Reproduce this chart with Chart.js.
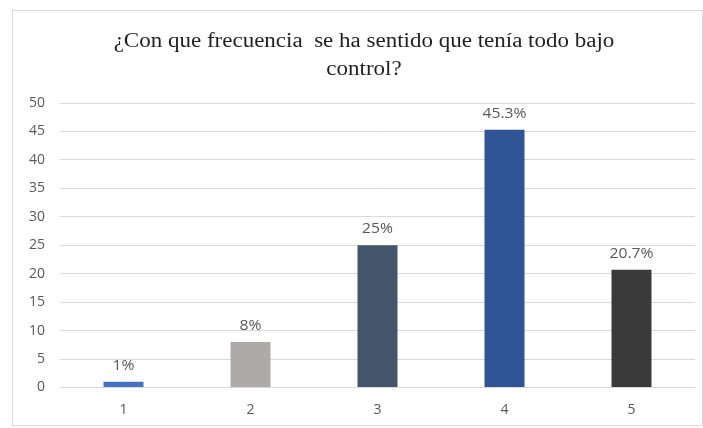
<!DOCTYPE html>
<html lang="es">
<head>
  <meta charset="UTF-8" />
  <title>Frecuencia de control</title>
  <script src="https://cdn.jsdelivr.net/npm/chart.js"></script>
  <style>
    html, body {
      margin: 0;
      padding: 0;
      background: #fff;
    }
    #wrap {
      width: 703px;
      height: 428px;
    }
  </style>
</head>
<body>
  <div id="wrap"><canvas id="freqChart" width="703" height="428"></canvas></div>

  <script>
    const categories = ['1', '2', '3', '4', '5'];
    const values = [1, 8, 25, 45.3, 20.7];
    const valueLabels = ['1%', '8%', '25%', '45.3%', '20.7%'];
    const barColors = ['#4472C4', '#AEAAAA', '#44546A', '#2F5597', '#3A3A3A'];
    const titleLines = ['¿Con que frecuencia  se ha sentido que tenía todo bajo', 'control?'];

    // white background, thin frame and the two-line title (slightly widened serif)
    const frame = {
      id: 'frame',
      beforeDraw(chart) {
        const c = chart.ctx;
        c.save();
        c.fillStyle = '#fff';
        c.fillRect(0, 0, chart.width, chart.height);
        c.strokeStyle = '#d9d9d9';
        c.lineWidth = 1;
        c.strokeRect(12.5, 10.5, 690, 415);

        c.font = '20px "Liberation Serif", serif';
        c.fillStyle = '#1f1f1f';
        c.textAlign = 'center';
        c.textBaseline = 'middle';
        c.translate(364, 0);
        c.scale(1.15, 1);
        titleLines.forEach((line, i) => c.fillText(line, 0, 42 + i * 28));
        c.restore();
      }
    };

    // percentage text above each bar
    const barValues = {
      id: 'barValues',
      afterDatasetsDraw(chart) {
        const c = chart.ctx;
        const meta = chart.getDatasetMeta(0);
        c.font = '14px "Open Sans", sans-serif';
        c.fillStyle = '#595959';
        c.textAlign = 'center';
        c.textBaseline = 'bottom';
        meta.data.forEach((bar, i) => {
          c.save();
          c.translate(bar.x, bar.y - 9);
          c.scale(1.12, 1);
          c.fillText(valueLabels[i], 0, 0);
          c.restore();
        });
      }
    };

    const ctx = document.getElementById('freqChart').getContext('2d');
    const freqChart = new Chart(ctx, {
      type: 'bar',
      data: {
        labels: categories,
        datasets: [{
          data: values,
          backgroundColor: barColors,
          borderWidth: 0,
          barPercentage: 0.315,
          categoryPercentage: 1
        }]
      },
      options: {
        responsive: false,
        animation: false,
        layout: {
          padding: { left: 12, right: 8, top: 103, bottom: 9.5 }
        },
        plugins: {
          legend: { display: false },
          tooltip: { enabled: false },
          title: { display: false }
        },
        scales: {
          x: {
            afterFit(scale) { scale.height = 31; },
            grid: { display: false, drawTicks: false },
            border: { display: false },
            ticks: {
              color: '#595959',
              padding: 14,
              font: { family: '"Open Sans", sans-serif', size: 14 }
            }
          },
          y: {
            min: 0,
            max: 50,
            afterFit(scale) { scale.width = 48; },
            grid: { color: '#d9d9d9', drawTicks: false },
            border: { display: false },
            ticks: {
              stepSize: 5,
              color: '#595959',
              padding: 15,
              font: { family: '"Open Sans", sans-serif', size: 14 }
            }
          }
        }
      },
      plugins: [frame, barValues]
    });
  </script>
</body>
</html>
